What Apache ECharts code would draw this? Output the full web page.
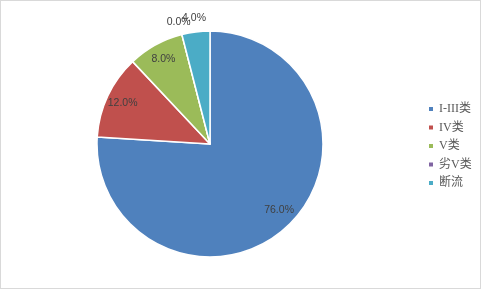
<!DOCTYPE html>
<html><head><meta charset="utf-8">
<script src="https://cdn.jsdelivr.net/npm/echarts@6/dist/echarts.min.js"></script>
<style>html,body{margin:0;padding:0;background:#fff}#c{width:481px;height:289px;box-sizing:border-box;border:1px solid #d9d9d9}</style>
</head><body><div id="c"></div>
<script>
var categories = ['I-III类', 'IV类', 'V类', '劣V类', '断流'];
var values = [76.0, 12.0, 8.0, 0.0, 4.0];
var colors = ['#4F81BD', '#C0504D', '#9BBB59', '#8064A2', '#4BACC6'];

var chart = echarts.init(document.getElementById('c'));
function mk(showFn, col, eps) {
  return categories.map(function (n, i) {
    var v = values[i];
    var lab = { show: showFn(v) };
    if (i === 0) lab.offset = [3, -4];
    return { name: n, value: (eps && v === 0) ? 0.01 : v, itemStyle: { color: col ? col[i] : 'rgba(0,0,0,0)' },
      label: lab };
  });
}
var center = [209, 143];
function lbl() {
  return { position: 'inside', color: '#404040', fontSize: 10.5, fontFamily: 'Liberation Sans, Arial, sans-serif',
    formatter: function (p) { return values[p.dataIndex].toFixed(1) + '%'; } };
}
function overlay(r, showFn) {
  return { type: 'pie', center: center, radius: r, startAngle: 90, silent: true, legendHoverLink: false,
    minShowLabelAngle: 0, avoidLabelOverlap: false, labelLayout: { hideOverlap: false },
    label: lbl(), labelLine: { show: false }, emphasis: { disabled: true },
    data: mk(showFn, null, true) };
}
chart.setOption({
  animation: false,
  color: colors,
  legend: {
    orient: 'vertical', left: 426, top: 102, padding: 0, icon: 'rect', itemWidth: 6, itemHeight: 6, itemGap: 6.5,
    textStyle: { color: '#595959', fontSize: 12, fontFamily: 'Liberation Serif, "Noto Sans CJK SC", serif' },
    data: categories
  },
  series: [
    { type: 'pie', center: center, radius: [0, 113], startAngle: 90, clockwise: true, silent: true,
      itemStyle: { borderColor: '#fff', borderWidth: 1.5 }, label: { show: false }, labelLine: { show: false },
      data: mk(function () { return false; }, colors) },
    overlay([74, 113], function (v) { return v >= 8; }),
    overlay([113, 135], function (v) { return v > 0 && v < 8; }),
    overlay([113, 133], function (v) { return v === 0; })
  ]
});
</script></body></html>
